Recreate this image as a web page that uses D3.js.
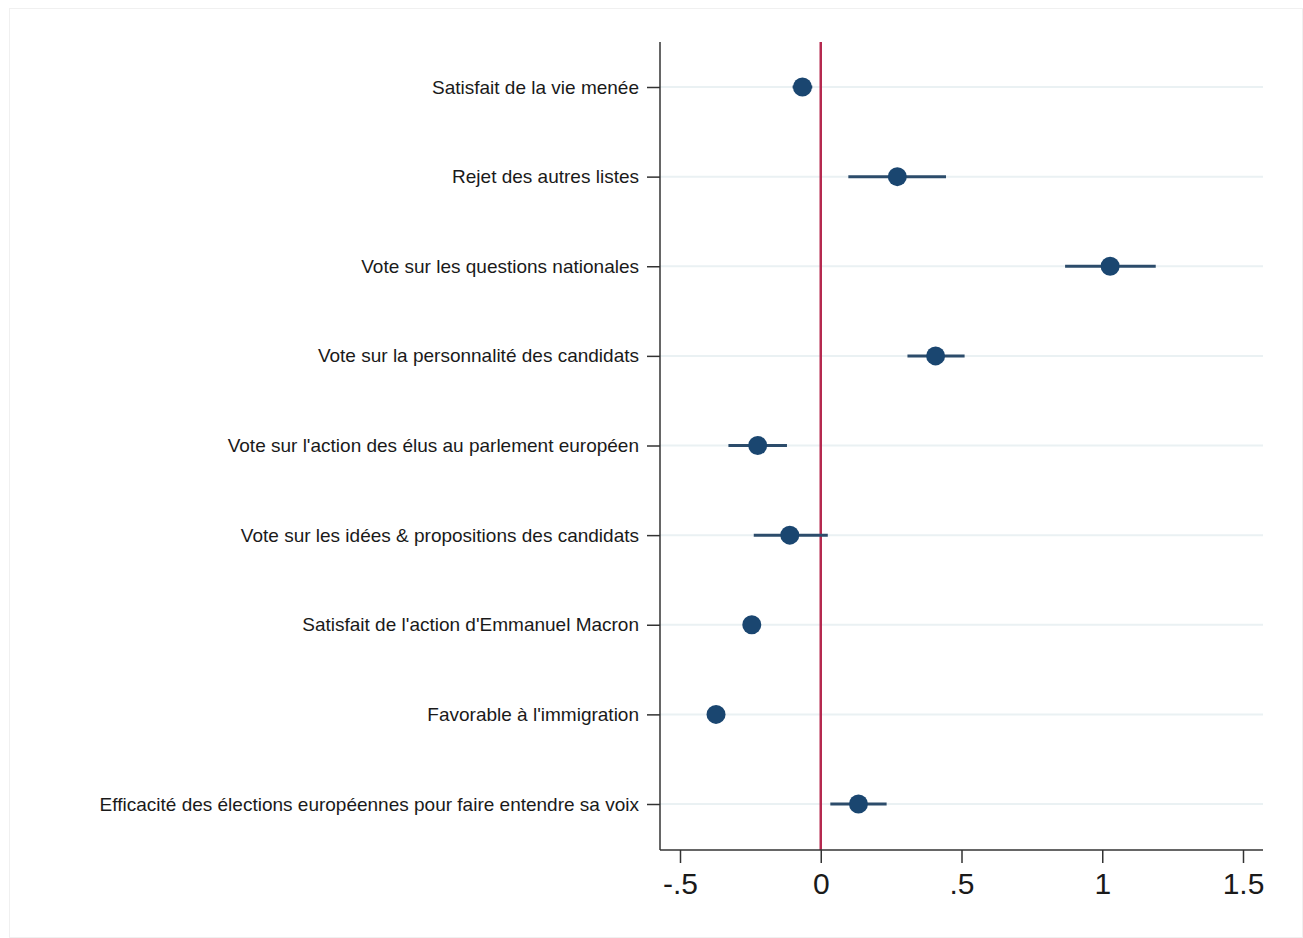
<!DOCTYPE html>
<html>
<head>
<meta charset="utf-8">
<script src="https://cdn.jsdelivr.net/npm/d3@7"></script>
<style>
  body { margin: 0; background: #fff; }
  .frame { position: absolute; left: 9px; top: 8px; width: 1294px; height: 930px; border: 1px solid #f0f0f0; box-sizing: border-box; }
</style>
</head>
<body>
<div class="frame"></div>
<svg id="chart" width="1303" height="938" style="position:absolute;left:0;top:0"></svg>
<script>
// categories, top to bottom
const labels = [
    "Satisfait de la vie menée",
    "Rejet des autres listes",
    "Vote sur les questions nationales",
    "Vote sur la personnalité des candidats",
    "Vote sur l'action des élus au parlement européen",
    "Vote sur les idées & propositions des candidats",
    "Satisfait de l'action d'Emmanuel Macron",
    "Favorable à l'immigration",
    "Efficacité des élections européennes pour faire entendre sa voix"
];
const estimates = [-0.065, 0.272, 1.028, 0.408, -0.224, -0.110, -0.245, -0.372, 0.134];
const ciLow     = [-0.100, 0.098, 0.868, 0.308, -0.328, -0.238, -0.245, -0.372, 0.034];
const ciHigh    = [-0.030, 0.445, 1.190, 0.511, -0.120, 0.025, -0.245, -0.372, 0.234];
const xTicks = [-0.5, 0, 0.5, 1, 1.5];
const xTickLabels = ['-.5', '0', '.5', '1', '1.5'];

const svg = d3.select('#chart');
const plotLeft = 660, plotRight = 1263, plotTop = 42, plotBottom = 850;

let x = d3.scaleLinear().domain([-0.5, 1.5]).range([680, 1243]);
let y = d3.scalePoint().domain(d3.range(labels.length)).range([87, 804]);

let g = svg.append('g');

// light grid lines
g.selectAll('line.grid')
    .data(labels)
    .enter().append('line')
    .attr('x1', plotLeft).attr('x2', plotRight)
    .attr('y1', (d, i) => y(i)).attr('y2', (d, i) => y(i))
    .style('stroke', '#eaf1f3')
    .style('stroke-width', 2);

// reference line at zero
g.append('line')
    .attr('x1', x(0)).attr('x2', x(0))
    .attr('y1', plotTop).attr('y2', plotBottom)
    .style('stroke', '#b5294f')
    .style('stroke-width', 2.5);

// confidence intervals
g.selectAll('line.ci')
    .data(estimates)
    .enter().append('line')
    .attr('x1', (d, i) => x(ciLow[i]))
    .attr('x2', (d, i) => x(ciHigh[i]))
    .attr('y1', (d, i) => y(i)).attr('y2', (d, i) => y(i))
    .style('stroke', '#2c4c6b')
    .style('stroke-width', 3);

// point estimates
g.selectAll('circle')
    .data(estimates)
    .enter().append('circle')
    .attr('cx', d => x(d))
    .attr('cy', (d, i) => y(i))
    .attr('r', 9.5)
    .style('fill', '#1a4670');

// y axis
let yAxis = d3.axisLeft(y).tickSize(13).tickPadding(8).tickFormat(i => labels[i]);
let ya = svg.append('g').attr('transform', 'translate(' + plotLeft + ',0)').call(yAxis);
ya.select('.domain').remove();
ya.append('line').attr('x1', 0).attr('x2', 0).attr('y1', plotTop).attr('y2', plotBottom)
    .style('stroke', '#333').style('stroke-width', 1.5);
ya.selectAll('.tick line').style('stroke', '#333').style('stroke-width', 1.5);
ya.selectAll('.tick text')
    .style('font-family', '"Liberation Sans", Arial, sans-serif')
    .style('font-size', '19px')
    .style('fill', '#1a1a1a');

// x axis
let xAxis = d3.axisBottom(x).tickValues(xTicks).tickSize(13).tickPadding(10)
    .tickFormat((d, i) => xTickLabels[i]);
let xa = svg.append('g').attr('transform', 'translate(0,' + plotBottom + ')').call(xAxis);
xa.select('.domain').remove();
xa.append('line').attr('x1', plotLeft).attr('x2', plotRight).attr('y1', 0).attr('y2', 0)
    .style('stroke', '#333').style('stroke-width', 1.5);
xa.selectAll('.tick line').style('stroke', '#333').style('stroke-width', 1.5);
xa.selectAll('.tick text')
    .style('font-family', '"Liberation Sans", Arial, sans-serif')
    .style('font-size', '30px')
    .style('fill', '#1a1a1a');
</script>
</body>
</html>
